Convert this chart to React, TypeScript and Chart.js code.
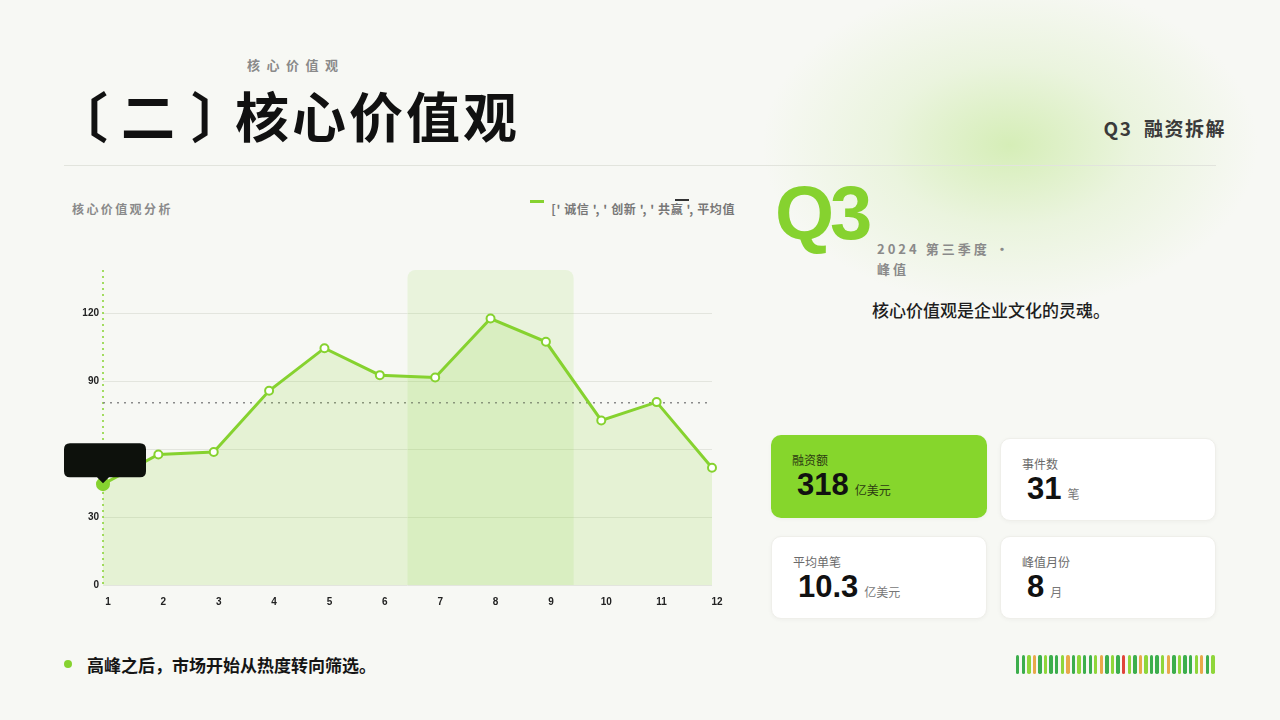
import React, { useEffect, useRef } from "react";
import { Chart, registerables } from "chart.js";

Chart.register(...registerables);

const months = ["1", "2", "3", "4", "5", "6", "7", "8", "9", "10", "11", "12"];
const coreValues = [44.5, 57.6, 58.7, 85.7, 104.5, 92.6, 91.6, 117.6, 107.3, 72.6, 80.7, 51.7];
const yTicks = [0, 30, 60, 90, 120];
const yMax = 139;
const peakQuarter = ["7", "9"];
const activeMonth = "1";

const seriesLabel = "['诚信', '创新', '共赢']";
const averageLabel = "平均值";
const legendText = "[' 诚信 ', ' 创新 ', ' 共赢 ', 平均值";

const kpiLabels = ["融资额", "事件数", "平均单笔", "峰值月份"];
const kpiValues = ["318", "31", "10.3", "8"];
const kpiUnits = ["亿美元", "笔", "亿美元", "月"];

const GREEN = "#86d22f";
const CJK = "'Noto Sans CJK SC', 'Noto Sans', sans-serif";
const LATIN = "'Liberation Sans', Arial, sans-serif";

const barColors = [
  "#3cae4c", "#3cae4c", "#8fd63a", "#e8a94a", "#3cae4c", "#8fd63a", "#3cae4c", "#3cae4c", "#8fd63a",
  "#e8a94a", "#3cae4c", "#8fd63a", "#3cae4c", "#3cae4c", "#8fd63a", "#e8a94a", "#3cae4c", "#8fd63a",
  "#3cae4c", "#e0443a", "#8fd63a", "#3cae4c", "#e8a94a", "#8fd63a", "#3cae4c", "#3cae4c", "#8fd63a",
  "#e8a94a", "#3cae4c", "#8fd63a", "#3cae4c", "#3cae4c", "#8fd63a", "#e8a94a", "#3cae4c", "#8fd63a",
];

// light band behind the Q3 months + dotted green y axis line
const quarterBand = {
  id: "quarterBand",
  beforeDatasetsDraw(chart: any) {
    const { ctx, chartArea, scales } = chart;
    const x = scales.x;
    const left = x.getPixelForValue(months.indexOf(peakQuarter[0]) - 0.5);
    const right = x.getPixelForValue(months.indexOf(peakQuarter[1]) + 0.5);
    ctx.save();
    ctx.fillStyle = "rgba(134, 210, 47, 0.12)";
    ctx.beginPath();
    ctx.roundRect(left, chartArea.top, right - left, chartArea.bottom - chartArea.top, [8, 8, 0, 0]);
    ctx.fill();

    ctx.strokeStyle = GREEN;
    ctx.lineWidth = 1.5;
    ctx.setLineDash([2, 4]);
    ctx.beginPath();
    ctx.moveTo(chartArea.left, chartArea.top);
    ctx.lineTo(chartArea.left, chartArea.bottom);
    ctx.stroke();
    ctx.restore();
  },
};

function ValueChart() {
  const canvasRef = useRef<HTMLCanvasElement | null>(null);

  useEffect(() => {
    if (!canvasRef.current) return;
    const average = coreValues.reduce((a, b) => a + b, 0) / coreValues.length;
    const chart = new Chart(canvasRef.current, {
      type: "line",
      data: {
        labels: months,
        datasets: [
          {
            label: seriesLabel,
            data: coreValues,
            borderColor: GREEN,
            borderWidth: 3,
            backgroundColor: "rgba(134, 210, 47, 0.16)",
            fill: "origin",
            tension: 0,
            pointRadius: 4,
            pointBackgroundColor: "#ffffff",
            pointBorderColor: GREEN,
            pointBorderWidth: 2,
            pointHoverRadius: 6,
            pointHoverBackgroundColor: GREEN,
            pointHoverBorderColor: GREEN,
            pointHoverBorderWidth: 2,
          },
          {
            label: averageLabel,
            data: months.map(() => average),
            borderColor: "#8a8a8a",
            borderWidth: 1.5,
            borderDash: [2, 5],
            pointRadius: 0,
            pointHoverRadius: 0,
            fill: false,
          },
        ],
      },
      options: {
        animation: false,
        responsive: false,
        events: [],
        layout: { padding: { top: 20, right: 32, left: 0, bottom: 0 } },
        plugins: {
          legend: { display: false },
          tooltip: {
            enabled: true,
            backgroundColor: "#0d110c",
            cornerRadius: 6,
            caretSize: 6,
            caretPadding: 1,
            xAlign: "center",
            yAlign: "bottom",
            padding: { left: 41, right: 41, top: 17, bottom: 17 },
            displayColors: false,
            filter: (item) => item.datasetIndex === 0,
            callbacks: {
              title: () => "",
              label: () => "",
            },
          },
        },
        scales: {
          x: {
            offset: false,
            grid: { display: false },
            border: { display: false },
            ticks: {
              color: "#222",
              font: { family: LATIN, size: 10, weight: "bold" },
              padding: 3,
              labelOffset: 5,
              maxRotation: 0,
            },
            afterFit: (s: any) => {
              s.height = 25;
            },
          },
          y: {
            min: 0,
            max: yMax,
            afterBuildTicks: (s: any) => {
              s.ticks = yTicks.map((v) => ({ value: v }));
            },
            grid: { color: "#e3e5de", lineWidth: 1, drawTicks: false },
            border: { display: false },
            ticks: {
              color: "#222",
              font: { family: LATIN, size: 10, weight: "bold" },
              padding: 4,
            },
            afterFit: (s: any) => {
              s.width = 39;
            },
          },
        },
      },
      plugins: [quarterBand],
    });
    const active = [{ datasetIndex: 0, index: months.indexOf(activeMonth) }];
    chart.setActiveElements(active);
    chart.tooltip?.setActiveElements(active, { x: 0, y: 0 });
    chart.update();
    return () => chart.destroy();
  }, []);

  return <canvas ref={canvasRef} width={680} height={360} />;
}

function KpiCard({ i, left, top, highlight }: { i: number; left: number; top: number; highlight?: boolean }) {
  return (
    <div
      style={{
        position: "absolute",
        left,
        top,
        width: 216,
        height: 83,
        borderRadius: 10,
        background: highlight ? "#86d62c" : "#ffffff",
        border: highlight ? "none" : "1px solid #efefea",
        boxShadow: "0 1px 4px rgba(0,0,0,0.04)",
        boxSizing: "border-box",
      }}
    >
      <div
        style={{
          position: "absolute",
          left: 21,
          top: 19,
          fontFamily: CJK,
          fontSize: 12,
          lineHeight: "12px",
          color: highlight ? "#2c3a12" : "#6a6a6a",
          whiteSpace: "nowrap",
        }}
      >
        {kpiLabels[i]}
      </div>
      <div
        style={{
          position: "absolute",
          left: 26,
          top: 34,
          display: "flex",
          alignItems: "baseline",
          whiteSpace: "nowrap",
        }}
      >
        <span style={{ fontFamily: LATIN, fontWeight: 700, fontSize: 31, lineHeight: "31px", color: "#111" }}>
          {kpiValues[i]}
        </span>
        <span
          style={{
            fontFamily: CJK,
            fontSize: 12,
            marginLeft: 6,
            color: highlight ? "#2c3a12" : "#777",
          }}
        >
          {kpiUnits[i]}
        </span>
      </div>
    </div>
  );
}

export default function App() {
  return (
    <div
      style={{
        position: "absolute",
        left: 0,
        top: 0,
        width: 1280,
        height: 720,
        overflow: "hidden",
        background: "#f7f8f4",
        fontFamily: CJK,
      }}
    >
      {/* green glow top right */}
      <div
        style={{
          position: "absolute",
          left: 760,
          top: -20,
          width: 500,
          height: 330,
          background:
            "radial-gradient(ellipse at 50% 50%, rgba(205,235,168,0.8) 0%, rgba(222,240,200,0.5) 35%, rgba(247,248,244,0) 70%)",
        }}
      />

      <div
        style={{
          position: "absolute",
          left: 247,
          top: 58,
          fontSize: 13,
          lineHeight: "13px",
          fontWeight: 700,
          letterSpacing: 6.5,
          color: "#8a8a8a",
          whiteSpace: "nowrap",
        }}
      >
        核心价值观
      </div>
      <div
        style={{
          position: "absolute",
          left: 64,
          top: 88,
          fontSize: 54,
          lineHeight: "54px",
          fontWeight: 700,
          letterSpacing: 3,
          color: "#111",
          whiteSpace: "nowrap",
        }}
      >
        <span style={{ position: "relative", left: -10 }}>〔</span>二
        <span style={{ position: "relative", left: 13 }}>〕</span>核心价值观
      </div>
      <div
        style={{
          position: "absolute",
          right: 54,
          top: 118,
          fontSize: 19,
          lineHeight: "19px",
          fontWeight: 700,
          letterSpacing: 1.5,
          color: "#3a3a3a",
          whiteSpace: "nowrap",
        }}
      >
        Q3&nbsp;&nbsp;融资拆解
      </div>
      <div style={{ position: "absolute", left: 64, top: 165, width: 1152, height: 1, background: "#e2e4dd" }} />

      {/* chart header */}
      <div
        style={{
          position: "absolute",
          left: 72,
          top: 203,
          fontSize: 12,
          lineHeight: "12px",
          fontWeight: 700,
          letterSpacing: 2.4,
          color: "#8a8a8a",
          whiteSpace: "nowrap",
        }}
      >
        核心价值观分析
      </div>
      <div style={{ position: "absolute", left: 530, top: 200, width: 14, height: 3, background: GREEN }} />
      <div
        style={{
          position: "absolute",
          right: 545,
          top: 203,
          fontSize: 12,
          lineHeight: "12px",
          fontWeight: 700,
          letterSpacing: 0.6,
          color: "#777",
          whiteSpace: "nowrap",
        }}
      >
        {legendText}
      </div>
      <div style={{ position: "absolute", left: 675, top: 199, width: 14, height: 2, background: "#333" }} />

      <div style={{ position: "absolute", left: 64, top: 250, width: 680, height: 360 }}>
        <ValueChart />
      </div>

      {/* right column */}
      <div
        style={{
          position: "absolute",
          left: 775,
          top: 175,
          fontFamily: LATIN,
          fontSize: 76,
          lineHeight: "76px",
          fontWeight: 700,
          letterSpacing: -4,
          color: GREEN,
          whiteSpace: "nowrap",
        }}
      >
        Q3
      </div>
      <div
        style={{
          position: "absolute",
          left: 877,
          top: 239,
          fontSize: 13,
          lineHeight: "20px",
          fontWeight: 700,
          letterSpacing: 3,
          color: "#8a8a8a",
          whiteSpace: "nowrap",
        }}
      >
        2024 第三季度 ·<br />峰值
      </div>
      <div
        style={{
          position: "absolute",
          left: 872,
          top: 301,
          fontSize: 17,
          lineHeight: "17px",
          fontWeight: 500,
          color: "#1e1e1e",
          whiteSpace: "nowrap",
        }}
      >
        核心价值观是企业文化的灵魂。
      </div>

      <KpiCard i={0} left={771} top={435} highlight />
      <KpiCard i={1} left={1000} top={438} />
      <KpiCard i={2} left={771} top={536} />
      <KpiCard i={3} left={1000} top={536} />

      {/* footer */}
      <div style={{ position: "absolute", left: 64, top: 660, width: 8, height: 8, borderRadius: 4, background: GREEN }} />
      <div
        style={{
          position: "absolute",
          left: 87,
          top: 656,
          fontSize: 17,
          lineHeight: "17px",
          fontWeight: 700,
          color: "#151515",
          whiteSpace: "nowrap",
        }}
      >
        高峰之后，市场开始从热度转向筛选。
      </div>
      <div style={{ position: "absolute", left: 1016, top: 655, height: 19, display: "flex", gap: 2.2 }}>
        {barColors.map((c, k) => (
          <div key={k} style={{ width: 3.4, height: 19, borderRadius: 1.7, background: c }} />
        ))}
      </div>
    </div>
  );
}
